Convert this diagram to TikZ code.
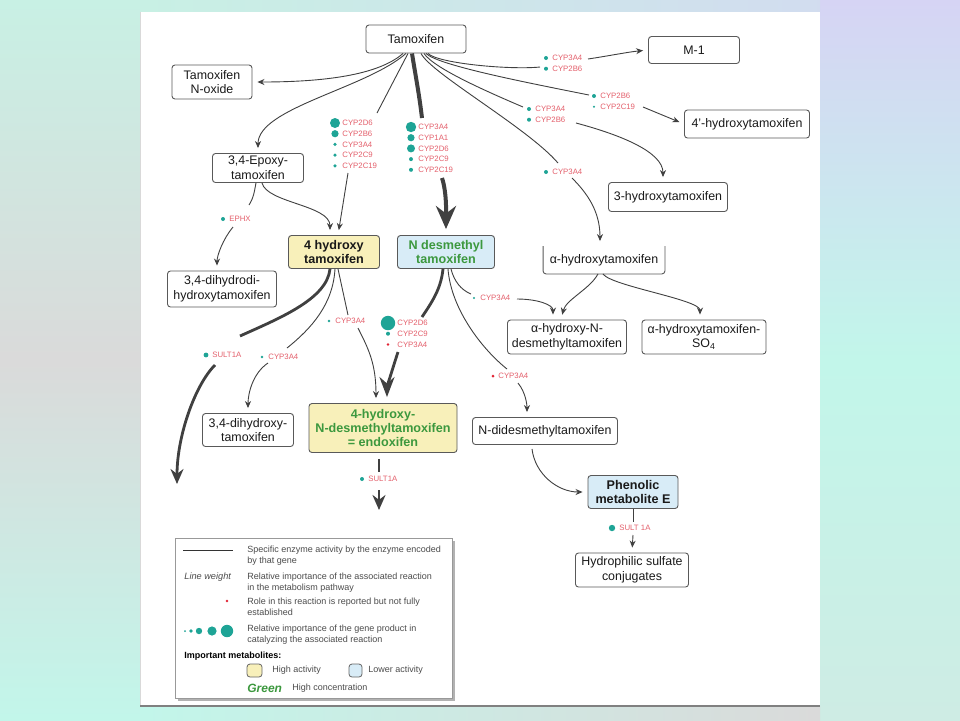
\documentclass[tikz,border=0pt]{standalone}
\usepackage{fontspec}
\setmainfont{Liberation Sans}
\usepackage{tikz}
\usetikzlibrary{arrows.meta, calc}

\definecolor{genedot}{RGB}{30,164,150}
\definecolor{genetext}{RGB}{228,96,108}
\definecolor{reddot}{RGB}{226,36,52}
\definecolor{hiyellow}{RGB}{248,240,186}
\definecolor{loblue}{RGB}{216,236,247}
\definecolor{concgreen}{RGB}{60,152,62}
\definecolor{bgmint}{RGB}{200,240,228}
\definecolor{bgmintb}{RGB}{194,246,234}
\definecolor{bgmintc}{RGB}{206,236,228}
\definecolor{bggrey}{RGB}{218,218,218}
\definecolor{bglav}{RGB}{214,212,244}

\tikzset{
	>={Stealth[length=3.5pt,width=3pt]},
	link/.style={draw=black!75, line width=0.45pt},
	arr/.style={link, ->, shorten >=2.5pt},
	heavyarr/.style={link, line width=1.4pt, -{Stealth[length=7.5pt,width=6.5pt]}, shorten >=1pt},
	bigarr/.style={link, line width=1.4pt, -{Stealth[length=10pt,width=7.5pt]}, shorten >=3pt},
	majorarr/.style={link, line width=2pt, -{Stealth[length=11.5pt,width=10pt]}, shorten >=3pt},
	boxsize/.style 2 args={minimum width={#1*0.5pt}, minimum height={#2*0.5pt}},
	metab/.style={draw=black!65, line width=0.45pt, rounded corners=1.5pt, fill=white, inner sep=1pt,
		align=center, text=black!90, font=\fontsize{6.2}{7.4}\selectfont},
	highmet/.style={metab, fill=hiyellow, font=\fontsize{6.3}{7.2}\selectfont\bfseries},
	lowmet/.style={metab, fill=loblue, font=\fontsize{6.3}{7.2}\selectfont\bfseries},
	enz/.style={anchor=west, inner sep=0pt, text=genetext, font=\fontsize{3.9}{4.7}\selectfont},
	legend/.style={anchor=west, inner sep=0pt, align=left, text=black!70, font=\fontsize{4.5}{5.5}\selectfont}
}

% dots and enzyme names, one row each
\newcommand{\geneList}[5]{%
	\foreach \rad/\col/\gname [count=\k] in {#5}{%
		\fill[\col] (#2,{#3+10.7*(\k-1)}) circle (\rad pt);
		\node[enz] (#1\k) at ({#2+#4},{#3+10.7*(\k-1)}) {\gname};
	}}

\begin{document}
\begin{tikzpicture}[x=0.5pt, y=-0.5pt]
	\useasboundingbox (0,0) rectangle (960,720);
	
	% BACKGROUND (y upwards here, so that the shadings run top to bottom)
	\begin{scope}[y=0.5pt]
		\fill[bgmint] (0,-720) rectangle (960,0);
		\shade[top color=bgmint, bottom color=bgmintb, middle color=bggrey] (0,-720) rectangle (140,0);
		\shade[top color=bglav, bottom color=bgmintc, middle color=bgmintb] (820,-720) rectangle (960,0);
		\shade[left color=bgmint, right color=bglav!70!bgmint] (140,-12) rectangle (820,0);
		\shade[left color=bgmintb, right color=bggrey] (140,-720) rectangle (820,-706);
	\end{scope}
	\fill[white] (140,12) rectangle (820,706);
	\draw[black!15] (140,12) -- (140,706);
	\draw[black!50, line width=0.6pt] (140,706) -- (820,706);
	
	% Metabolites
	\node[metab, boxsize={100}{28}] (tam) at (416,39) {Tamoxifen};
	\node[metab, boxsize={80}{34}] (noxide) at (212,82) {Tamoxifen\\N-oxide};
	\node[metab, boxsize={91}{27}] (mone) at (694,50) {M-1};
	\node[metab, boxsize={125}{28}] (hydr4p) at (747,124) {4'-hydroxytamoxifen};
	\node[metab, boxsize={119}{29}] (hydr3) at (668,197) {3-hydroxytamoxifen};
	\node[metab, boxsize={91}{29}] (epoxy) at (258,168) {3,4-Epoxy-\\tamoxifen};
	\node[highmet, boxsize={91}{33}] (hydr4) at (334,252) {4 hydroxy\\tamoxifen};
	\node[lowmet, boxsize={97}{33}, text=concgreen] (ndes) at (446,252) {N desmethyl\\tamoxifen};
	\node[metab, draw=none, boxsize={121}{27}] (ahyd) at (604,260) {α-hydroxytamoxifen};
	\draw[draw=black!65, line width=0.45pt, rounded corners=1.5pt]
	(ahyd.north west) -- (ahyd.south west) -- (ahyd.south east) -- (ahyd.north east);
	\node[metab, boxsize={109}{36}] (dihydrodi) at (222,289) {3,4-dihydrodi-\\hydroxytamoxifen};
	\node[metab, boxsize={119}{34}] (ahydn) at (567,337) {α-hydroxy-N-\\desmethyltamoxifen};
	\node[metab, boxsize={124}{34}] (aso4) at (704,337) {α-hydroxytamoxifen-\\SO\textsubscript{4}};
	\node[metab, boxsize={91}{33}] (dihydroxy) at (248,430) {3,4-dihydroxy-\\tamoxifen};
	\node[highmet, boxsize={148}{49}, text=concgreen] (endox) at (383,428) {4-hydroxy-\\N-desmethyltamoxifen\\= endoxifen};
	\node[metab, boxsize={145}{27}] (ndides) at (545,431) {N-didesmethyltamoxifen};
	\node[lowmet, boxsize={90}{33}] (phenolic) at (633,492) {Phenolic\\metabolite E};
	\node[metab, boxsize={113}{34}] (hydrophil) at (632,570) {Hydrophilic sulfate\\conjugates};
	
	% Enzymes
	\geneList{ga}{546}{58}{6}{1/genedot/CYP3A4, 1/genedot/CYP2B6}
	\geneList{gb}{594}{96}{6}{1/genedot/CYP2B6, 0.55/genedot/CYP2C19}
	\geneList{gc}{529}{109}{6}{1/genedot/CYP3A4, 1/genedot/CYP2B6}
	\geneList{gd}{546}{172}{6}{1/genedot/CYP3A4}
	\geneList{ge}{335}{123}{7}{2.5/genedot/CYP2D6, 1.8/genedot/CYP2B6, 0.9/genedot/CYP3A4, 0.9/genedot/CYP2C9, 0.9/genedot/CYP2C19}
	\geneList{gf}{411}{127}{7}{2.6/genedot/CYP3A4, 1.8/genedot/CYP1A1, 2/genedot/CYP2D6, 1/genedot/CYP2C9, 1/genedot/CYP2C19}
	\geneList{gg}{223}{219}{6}{1/genedot/EPHX}
	\geneList{gh}{206}{355}{6}{1.2/genedot/SULT1A}
	\geneList{gi}{262}{357}{6}{0.65/genedot/CYP3A4}
	\geneList{gj}{329}{321}{6}{0.65/genedot/CYP3A4}
	\geneList{gk}{388}{323}{9}{3.6/genedot/CYP2D6, 1/genedot/CYP2C9, 0.7/reddot/CYP3A4}
	\geneList{gl}{474}{298}{6}{0.6/genedot/CYP3A4}
	\geneList{gm}{493}{376}{5}{0.75/reddot/CYP3A4}
	\geneList{gn}{362}{479}{6}{1/genedot/SULT1A}
	\geneList{go}{612}{528}{7}{1.6/genedot/SULT 1A}
	
	% where the lines meet the enzyme labels
	\coordinate (ga-in) at (540,67);  \coordinate (ga-out) at (588,59);
	\coordinate (gb-in) at (589,95);  \coordinate (gb-out) at (643,107);
	\coordinate (gc-in) at (523,107); \coordinate (gc-out) at (576,123);
	\coordinate (gd-in) at (558,163); \coordinate (gd-out) at (572,178);
	\coordinate (ge-in) at (377,113); \coordinate (ge-out) at (348,173);
	\coordinate (gf-in) at (422,118); \coordinate (gf-out) at (442,178);
	\coordinate (gg-in) at (249,205); \coordinate (gg-out) at (233,227);
	\coordinate (gh-in) at (240,336); \coordinate (gh-out) at (215,365); \coordinate (gh-end) at (177,486);
	\coordinate (gi-in) at (287,348); \coordinate (gi-out) at (268,363);
	\coordinate (gj-in) at (348,315); \coordinate (gj-out) at (358,328);
	\coordinate (gk-in) at (422,317); \coordinate (gk-out) at (398,352);
	\coordinate (gl-in) at (471,294); \coordinate (gl-out) at (517,299);
	\coordinate (gm-in) at (507,369); \coordinate (gm-out) at (518,383);
	\coordinate (gn-in) at (379,472); \coordinate (gn-out) at (379,490); \coordinate (gn-end) at (379,512);
	\coordinate (go-in) at (633,522); \coordinate (go-out) at (633,535);
	
	% From tamoxifen
	\draw[arr] ($(tam.south)+(-13,0)$) .. controls +(-25,22) and +(70,0) .. (noxide.east);
	\draw[arr] ($(tam.south)+(-10,0)$) .. controls +(-40,35) and +(0,-45) .. (epoxy.north);
	\draw[link] ($(tam.south)+(-8,0)$) -- (ge-in);
	\draw[link, line width=2pt] ($(tam.south)+(-4,0)$) .. controls +(4,25) and +(-3,-25) .. (gf-in);
	\draw[link] ($(tam.south)+(5,0)$) .. controls +(10,20) and +(-30,-35) .. (gd-in);
	\draw[link] ($(tam.south)+(8,0)$) .. controls +(10,15) and +(-35,-15) .. (gc-in);
	\draw[link] ($(tam.south)+(10,0)$) .. controls +(12,12) and +(-60,-12) .. (gb-in);
	\draw[link] ($(tam.south)+(12,0)$) .. controls +(10,10) and +(-30,3) .. (ga-in);
	
	\draw[arr] (ga-out) .. controls +(20,-3) and +(-20,2) .. (mone.west);
	\draw[arr] (gb-out) -- (hydr4p.west);
	\draw[arr] (gc-out) .. controls +(45,12) and +(0,-30) .. ($(hydr3.north)+(-5,0)$);
	\draw[arr] (gd-out) .. controls +(15,15) and +(0,-35) .. ($(ahyd.north)+(-4,0)$);
	\draw[arr] (ge-out) -- ($(hydr4.north)+(4,0)$);
	\draw[majorarr] (gf-out) .. controls +(5,15) and +(0,-20) .. (ndes.north);
	
	% From 3,4-epoxy-tamoxifen
	\draw[link] ($(epoxy.south)+(-2,0)$) .. controls +(-2,10) and +(5,-8) .. (gg-in);
	\draw[arr] (gg-out) .. controls +(-10,12) and +(0,-15) .. ($(dihydrodi.north)+(-5,0)$);
	\draw[arr] ($(epoxy.south)+(4,0)$) .. controls +(5,20) and +(0,-30) .. ($(hydr4.north)+(-4,0)$);
	
	% From 4 hydroxy tamoxifen
	\draw[link, line width=1.4pt] ($(hydr4.south)+(-4,0)$) .. controls +(-3,30) and +(40,-18) .. (gh-in);
	\draw[heavyarr] (gh-out) .. controls +(-20,20) and +(0,-50) .. (gh-end);
	\draw[link] ($(hydr4.south)+(1,0)$) .. controls +(-2,35) and +(25,-20) .. (gi-in);
	\draw[arr] (gi-out) .. controls +(-15,10) and +(0,-20) .. (dihydroxy.north);
	\draw[link] ($(hydr4.south)+(4,0)$) -- (gj-in);
	\draw[arr] (gj-out) .. controls +(10,20) and +(0,-40) .. ($(endox.north)+(-7,0)$);
	
	% From N desmethyl tamoxifen
	\draw[link, line width=1.4pt] ($(ndes.south)+(-3,0)$) .. controls +(-2,20) and +(10,-15) .. (gk-in);
	\draw[bigarr] (gk-out) .. controls +(-5,15) and +(0,-15) .. ($(endox.north)+(4,0)$);
	\draw[link] ($(ndes.south)+(5,0)$) .. controls +(3,12) and +(-10,-4) .. (gl-in);
	\draw[arr] (gl-out) .. controls +(20,0) and +(0,-15) .. ($(ahydn.north)+(-14,0)$);
	\draw[link] ($(ndes.south)+(2,0)$) .. controls +(3,40) and +(-25,-20) .. (gm-in);
	\draw[arr] (gm-out) .. controls +(8,10) and +(0,-12) .. ($(ndides.north)+(-18,0)$);
	
	% From alpha-hydroxytamoxifen
	\draw[arr] ($(ahyd.south)+(-6,0)$) .. controls +(-8,15) and +(5,-20) .. ($(ahydn.north)+(-6,0)$);
	\draw[arr] ($(ahyd.south)+(-1,0)$) .. controls +(8,12) and +(0,-20) .. ($(aso4.north)+(-4,0)$);
	
	% Lower part
	\draw[arr] ($(ndides.south)+(-13,4)$) .. controls +(3,25) and +(-30,0) .. (phenolic.west);
	\draw[link] (phenolic.south) -- (go-in);
	\draw[arr] (go-out) -- (hydrophil.north);
	\draw[link, line width=1.3pt] ($(endox.south)+(-4,6)$) -- (gn-in);
	\draw[heavyarr] (gn-out) -- (gn-end);
	
	% LEGEND
	\fill[black!30] (178,541) rectangle (455,701);
	\filldraw[fill=white, draw=black!40] (175,538) rectangle (452,698);
	\draw[black!80, line width=0.4pt] (183,550) -- (233,550);
	\node[legend] (legline) at (247,555.5) {Specific enzyme activity by the enzyme encoded\\by that gene};
	\node[legend, font=\fontsize{4.6}{5.5}\selectfont\itshape] (legwtag) at (184,577) {Line weight};
	\node[legend] (legweight) at (247,582.5) {Relative importance of the associated reaction\\in the metabolism pathway};
	\fill[reddot] (227,601) circle (0.7pt);
	\node[legend] (legred) at (247,607) {Role in this reaction is reported but not fully\\established};
	\foreach \x/\rad in {185/0.5, 191/0.9, 199/1.6, 212/2.3, 227/3.1}
	{
		\fill[genedot] (\x,631) circle (\rad pt);
	}
	\node[legend] (legdots) at (247,635) {Relative importance of the gene product in\\catalyzing the associated reaction};
	\node[legend, text=black, font=\fontsize{4.5}{5.5}\selectfont\bfseries] (legimp) at (184,656) {Important metabolites:};
	\draw[fill=hiyellow, draw=black!60, rounded corners=1.5pt] (247,664) rectangle (262,677);
	\node[legend] (leghigh) at (272,670) {High activity};
	\draw[fill=loblue, draw=black!60, rounded corners=1.5pt] (349,664) rectangle (362,677);
	\node[legend] (leglow) at (368,670) {Lower activity};
	\node[legend, text=concgreen, font=\fontsize{6}{7}\selectfont\bfseries\itshape] (leggreen) at (247,688) {Green};
	\node[legend] (legconc) at (292,688) {High concentration};
\end{tikzpicture}
\end{document}
